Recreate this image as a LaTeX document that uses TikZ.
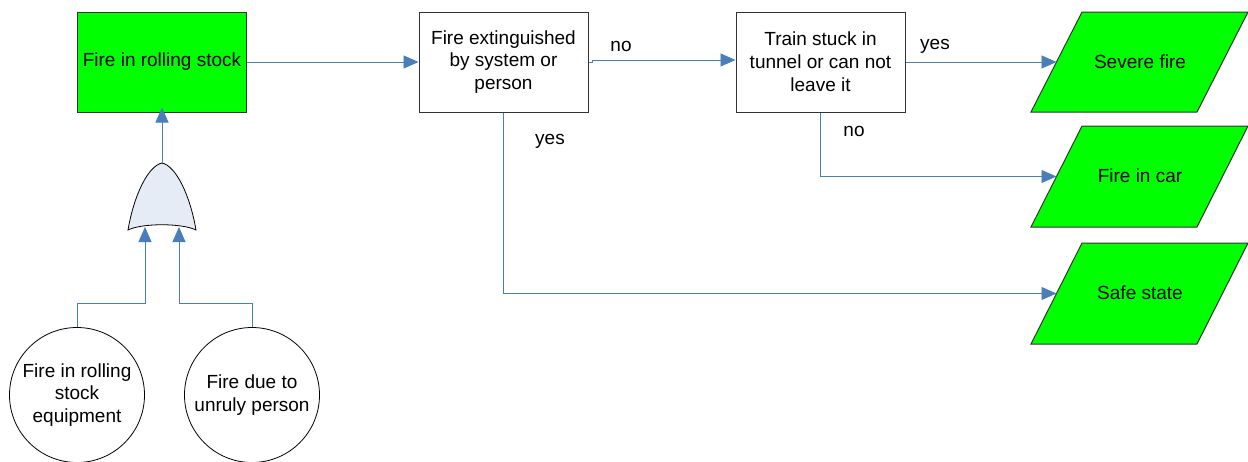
\documentclass[tikz,border=0pt]{standalone}
\usepackage{fontspec}
\setmainfont{Liberation Sans}
\usetikzlibrary{arrows.meta,shapes.geometric}
\definecolor{conn}{HTML}{4A7EBB}
\definecolor{boxgreen}{HTML}{00FF00}
\definecolor{gatefill}{HTML}{E6ECF5}
\definecolor{edge}{HTML}{333333}
\tikzset{
  txt/.style={font=\fontsize{19}{22.8}\selectfont, align=center, inner sep=0pt},
  stepbox/.style={draw=edge, line width=1pt, minimum width=169pt, minimum height=100pt, txt},
  greenbox/.style={stepbox, fill=boxgreen},
  para/.style={draw=edge, line width=1pt, fill=boxgreen},
  basic/.style={draw=black, line width=0.8pt, circle, minimum size=135pt, txt},
  conn/.style={draw=conn, line width=0.9pt, -{Triangle[length=15pt,width=13pt]}},
  lbl/.style={txt}
}
\begin{document}
\begin{tikzpicture}[x=1pt,y=-1pt]
\useasboundingbox (0,0) rectangle (1248,461);
% boxes
\node[greenbox] (fire) at (162,62) {Fire in rolling stock};
\node[stepbox] (ext) at (503.5,62) {Fire extinguished\\by system or\\person};
\node[stepbox] (train) at (820.5,62) {Train stuck in\\tunnel or can not\\leave it};
% parallelograms
\draw[para] (1082,12) -- (1248,12) -- (1197,112) -- (1031,112) -- cycle;
\node[txt] (severe) at (1140,62) {Severe fire};
\coordinate (severe-in) at (1056.5,62);
\draw[para] (1082,126) -- (1248,126) -- (1197,227) -- (1031,227) -- cycle;
\node[txt] (car) at (1140,176) {Fire in car};
\coordinate (car-in) at (1056.5,176.5);
\draw[para] (1082,243) -- (1248,243) -- (1197,344) -- (1031,344) -- cycle;
\node[txt] (safe) at (1140,293) {Safe state};
\coordinate (safe-in) at (1056.5,293.5);
% OR gate
\draw[black, line width=0.8pt, fill=gatefill]
  (128,230) .. controls (134,195) and (148,166) .. (162,163)
  .. controls (176,166) and (190,195) .. (196,230)
  .. controls (182,223) and (142,223) .. (128,230) -- cycle;
\coordinate (gate-out) at (162,163);
\coordinate (gate-in1) at (145,227);
\coordinate (gate-in2) at (179,227);
% basic events
\node[basic] (eq) at (77,395) {Fire in rolling\\stock\\equipment};
\node[basic] (unruly) at (252,395) {Fire due to\\unruly person};
% connectors
\draw[conn] (gate-out) -- ([yshift=5pt]fire.south);
\draw[conn] (eq.north) |- (145,303) -- (gate-in1);
\draw[conn] (unruly.north) |- (179,303) -- (gate-in2);
\draw[conn] (fire.east) -- (ext.west);
\draw[conn] (ext.east) -- ++(4,0) |- ([yshift=2pt]train.west);
\draw[conn] (train.east) -- (severe-in);
\draw[conn] (train.south) |- (car-in);
\draw[conn] (ext.south) |- (safe-in);
% labels
\node[lbl] (l-no1) at (621,46) {no};
\node[lbl] (l-yes1) at (935,46) {yes};
\node[lbl] (l-yes2) at (550,141) {yes};
\node[lbl] (l-no2) at (854,131) {no};
\end{tikzpicture}
\end{document}
